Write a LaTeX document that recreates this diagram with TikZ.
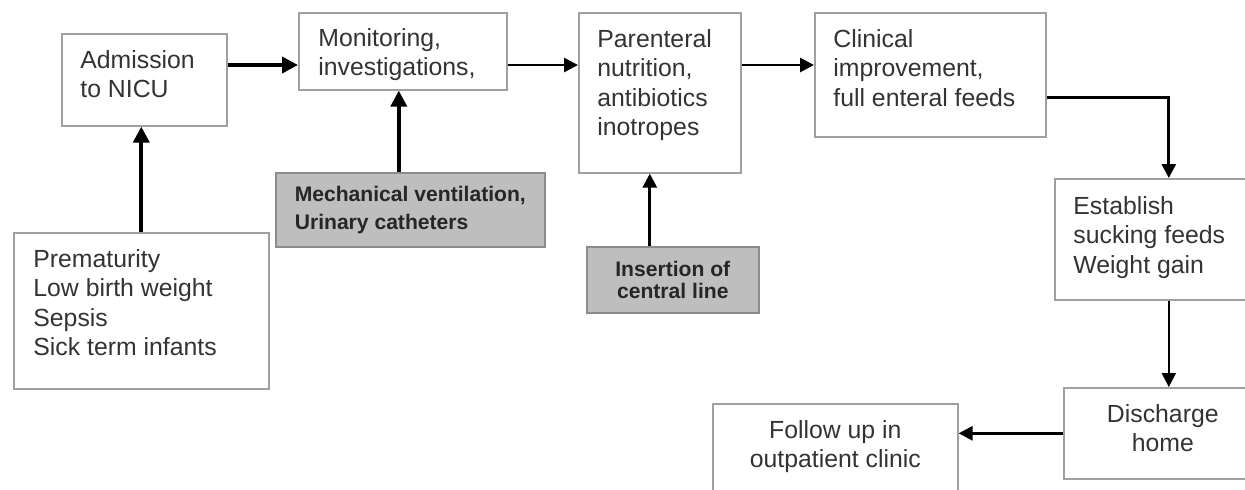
\documentclass[tikz,border=0pt]{standalone}
\usepackage{fontspec}
\setmainfont{Liberation Sans}
\usetikzlibrary{arrows.meta}
\definecolor{boxline}{HTML}{A0A0A0}
\definecolor{shade}{HTML}{BEBEBE}
\definecolor{shadeline}{HTML}{8C8C8C}
\definecolor{ink}{HTML}{333333}

\begin{document}
\begin{tikzpicture}[x=0.5pt,y=-0.5pt,
  box/.style={draw=boxline,line width=.8pt,anchor=north west,inner sep=0pt},
  greybox/.style={box,draw=shadeline,fill=shade},
  txt/.style={text=ink,inner sep=0pt,align=left,font=\fontsize{12.4}{14.75}\selectfont},
  boldtxt/.style={text=black!85,inner sep=0pt,font=\fontsize{10.55}{14}\selectfont\bfseries},
  flow/.style={line width=1.4pt,-{Triangle[length=7pt,width=7pt]}},
  flowthick/.style={line width=1.9pt,-{Triangle[length=8pt,width=8pt]}}]
\useasboundingbox (0,0) rectangle (1245,489);
\clip (0,0) rectangle (1245,489);
\coordinate (row) at (0,65);
\node[box,minimum width=82.5pt,minimum height=46pt] (adm) at (61,33) {};
\node[box,minimum width=104pt,minimum height=38.5pt] (mon) at (298,12) {};
\node[box,minimum width=81pt,minimum height=80pt] (par) at (578,12) {};
\node[box,minimum width=115.5pt,minimum height=62pt] (cli) at (814,12) {};
\node[box,minimum width=114pt,minimum height=60.5pt] (est) at (1054,178) {};
\node[box,minimum width=105pt,minimum height=45.5pt] (dis) at (1063,387) {};
\node[box,minimum width=122.5pt,minimum height=46pt] (fol) at (712,403) {};
\node[box,minimum width=127.5pt,minimum height=78pt] (pre) at (13,232) {};
\node[greybox,minimum width=134.5pt,minimum height=37pt] (mech) at (275,172) {};
\node[greybox,minimum width=86pt,minimum height=33pt] (ins) at (586,246) {};
\node[txt,anchor=north west] (admtxt) at ([shift={(19,17)}]adm.north west) {Admission\\to NICU};
\node[txt,anchor=north west] (montxt) at ([shift={(20,16)}]mon.north west) {Monitoring,\\investigations,};
\node[txt,anchor=north west] (partxt) at ([shift={(19,17)}]par.north west) {Parenteral\\nutrition,\\antibiotics\\inotropes};
\node[txt,anchor=north west] (clitxt) at ([shift={(19,17)}]cli.north west) {Clinical\\improvement,\\full enteral feeds};
\node[txt,anchor=north west] (esttxt) at ([shift={(19,18)}]est.north west) {Establish\\sucking feeds\\Weight gain};
\node[txt,anchor=north west] (pretxt) at ([shift={(20,17)}]pre.north west) {Prematurity\\Low birth weight\\Sepsis\\Sick term infants};
\node[txt,align=center] (distxt) at ([shift={(-6,-5)}]dis.center) {Discharge\\home};
\node[txt,align=center,anchor=north] (foltxt) at ([shift={(0,17)}]fol.north) {Follow up in\\outpatient clinic};
\node[boldtxt,align=left] (mechtxt) at (mech.center) {Mechanical ventilation,\\Urinary catheters};
\node[boldtxt,align=center,font=\fontsize{10.55}{11}\selectfont\bfseries] (instxt) at (ins.center) {Insertion of\\central line};
\draw[flowthick] (pre.north) -- (pre.north |- adm.south);
\draw[flowthick] (adm.east |- row) -- (mon.west |- row);
\draw[flowthick] ([xshift=-2pt]mon.south |- mech.north) -- ([xshift=-2pt]mon.south);
\draw[flow] (mon.east |- row) -- (par.west |- row);
\draw[flow] (par.east |- row) -- (cli.west |- row);
\draw[flow] ([xshift=-5pt]par.south |- ins.north) -- ([xshift=-5pt]par.south);
\draw[flow] ([yshift=-11.5pt]cli.east) -| (est.north);
\draw[flow,line width=1.1pt] (est.south) -- (dis.north);
\draw[flow] (dis.west) -- (dis.west -| fol.east);
\end{tikzpicture}
\end{document}
